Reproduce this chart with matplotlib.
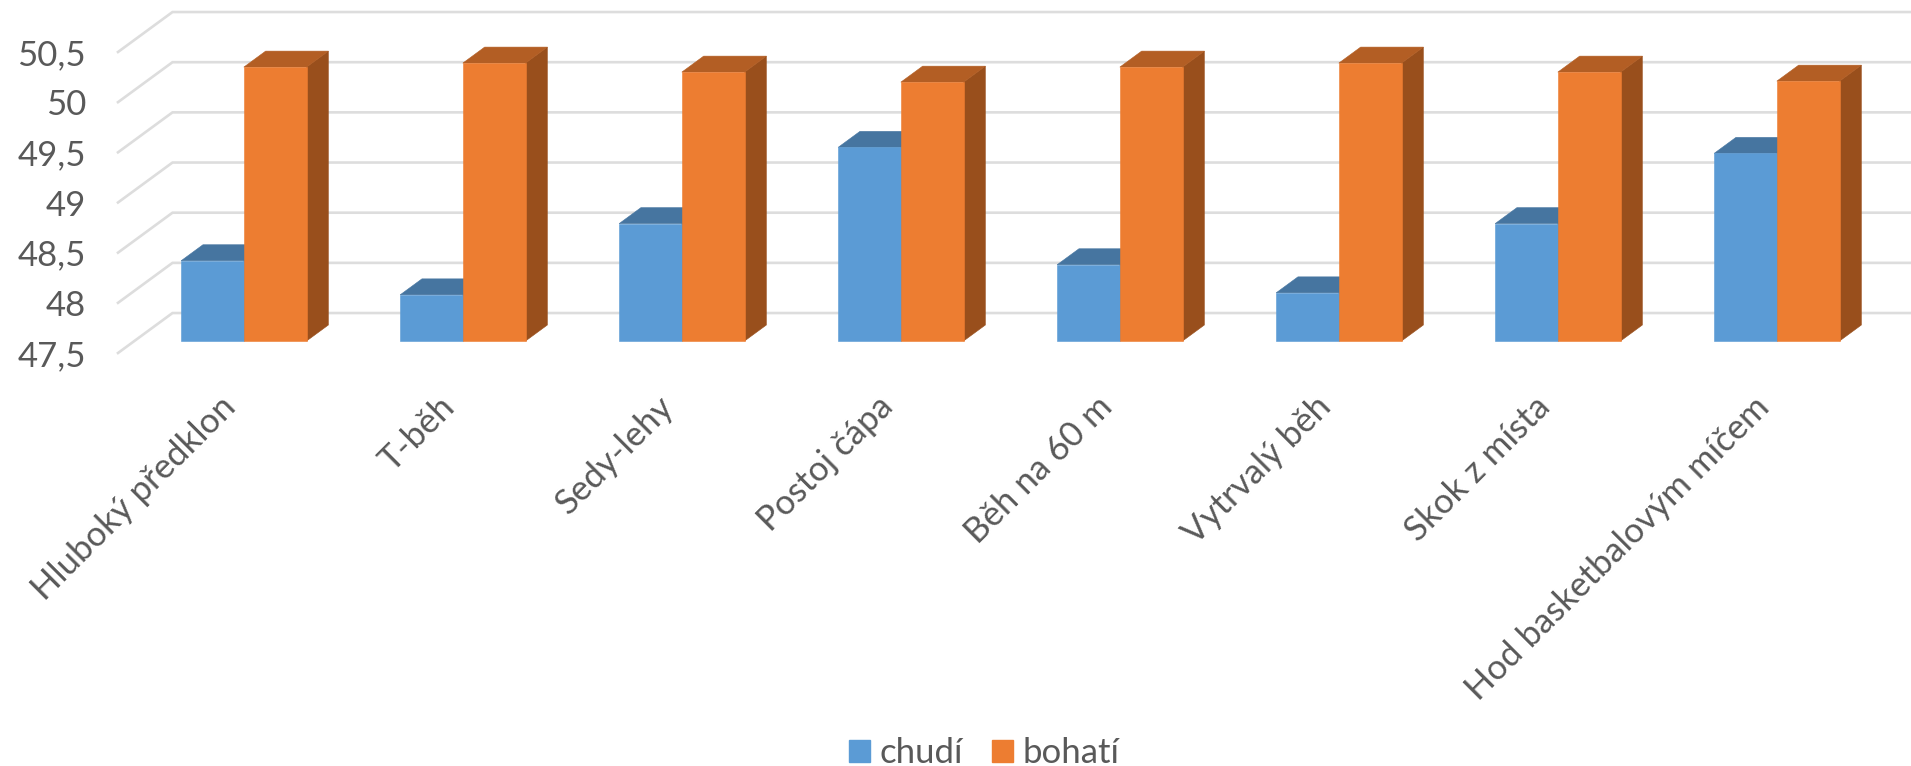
import matplotlib
matplotlib.use("Agg")
import matplotlib.pyplot as plt
from matplotlib.patches import Patch
from matplotlib.transforms import ScaledTranslation

plt.rcParams['font.family'] = ['Lato', 'DejaVu Sans']

# =========================
# Data
# =========================

categories = ["Hluboký předklon", "T-běh", "Sedy-lehy", "Postoj čápa",
              "Běh na 60 m", "Vytrvalý běh", "Skok z místa",
              "Hod basketbalovým míčem"]
chudi = [48.30, 47.96, 48.67, 49.43, 48.26, 47.98, 48.67, 49.37]
bohati = [50.23, 50.27, 50.18, 50.08, 50.23, 50.27, 50.18, 50.09]

y_ticks = [47.5, 48, 48.5, 49, 49.5, 50, 50.5]
y_labels = ["47,5", "48", "48,5", "49", "49,5", "50", "50,5"]

W, H = 1911, 766

# fake 3D: how far the back wall sits from the front plane, in data units
DEPTH_X = 54.5 / 219
DEPTH_Y = 40 / 100.4
BAR_W = 62.7 / 219
TEXT = "#595959"
GRID = "#DDDDDD"


def proj(x, y, d):
    return x + d * DEPTH_X, y + d * DEPTH_Y


def draw_bar(ax, x0, value, front, top, side, zorder):
    d0, d1 = 0.3, 0.7
    x1 = x0 + BAR_W
    base = y_ticks[0]
    faces = [
        ([(x1, base, d0), (x1, base, d1), (x1, value, d1), (x1, value, d0)], side),
        ([(x0, value, d0), (x1, value, d0), (x1, value, d1), (x0, value, d1)], top),
        ([(x0, base, d0), (x1, base, d0), (x1, value, d0), (x0, value, d0)], front),
    ]
    for corners, color in faces:
        pts = [proj(*c) for c in corners]
        ax.fill([p[0] for p in pts], [p[1] for p in pts], color=color,
                lw=0.4, zorder=zorder, clip_on=False)


fig = plt.figure(figsize=(W / 100, H / 100), dpi=100, facecolor="white")
ax = fig.add_axes([118 / W, (H - 353) / H, 1752 / W, 301 / H])
ax.set_xlim(0, len(categories))
ax.set_ylim(y_ticks[0], y_ticks[-1])
ax.patch.set_visible(False)
for s in ax.spines.values():
    s.set_visible(False)

# =========================
# Walls
# =========================

for v in y_ticks:
    xs, ys = zip(proj(0, v, 0), proj(0, v, 1), proj(len(categories), v, 1))
    ax.plot(xs, ys, color=GRID, lw=1.9, zorder=1, clip_on=False,
            solid_joinstyle="miter")

# =========================
# Bars
# =========================

for i in range(len(categories)):
    mid = i + 0.5
    draw_bar(ax, mid - BAR_W, chudi[i], "#5B9BD5", "#4675A0", "#3F6E99", 2 + i * 0.01)
    draw_bar(ax, mid, bohati[i], "#ED7D31", "#B35E24", "#994F1C", 3 + i * 0.01)

# =========================
# Axis labels and legend
# =========================

ax.set_yticks(y_ticks, y_labels)
ax.tick_params(axis="y", length=0, pad=23, labelsize=25, labelcolor=TEXT)
ax.set_xticks([i + 0.5 for i in range(len(categories))], categories)
ax.tick_params(axis="x", length=0, pad=27, labelsize=25, labelcolor=TEXT)
shift = ScaledTranslation(-8 / 100, 0, fig.dpi_scale_trans)
for lab in ax.get_xticklabels():
    lab.set_rotation(45)
    lab.set_ha("right")
    lab.set_rotation_mode("anchor")
    lab.set_transform(lab.get_transform() + shift)

handles = [Patch(color="#5B9BD5", label="chudí"), Patch(color="#ED7D31", label="bohatí")]
fig.legend(handles=handles, loc="lower center", bbox_to_anchor=(0.515, -0.004), ncol=2,
           frameon=False, fontsize=25, labelcolor=TEXT, handlelength=0.6,
           handleheight=0.6, handletextpad=0.28, columnspacing=0.85,
           borderpad=0, borderaxespad=0)

fig.savefig("out.png", dpi=100)
